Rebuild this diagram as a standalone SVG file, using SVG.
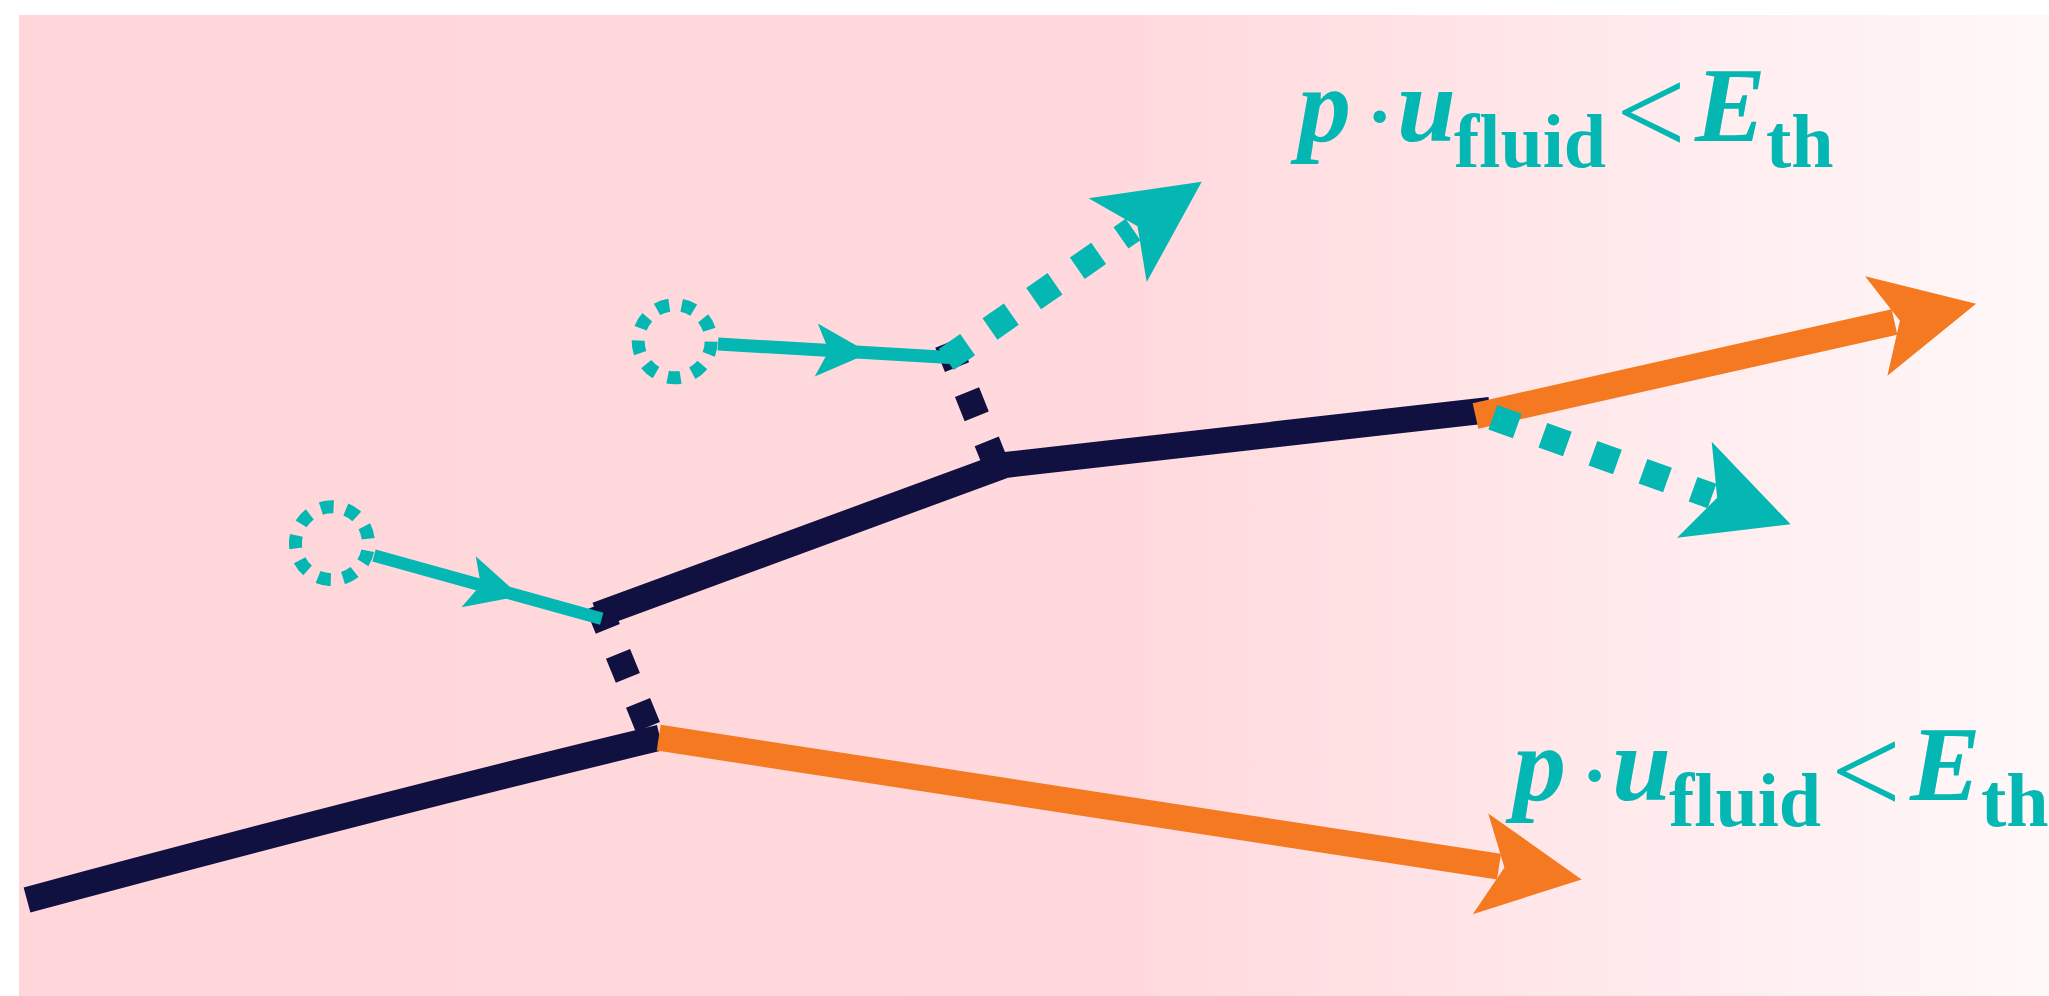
<svg xmlns="http://www.w3.org/2000/svg" width="2049" height="996" viewBox="0 0 2049 996">
  <defs>
    <linearGradient id="bg" x1="0" y1="0" x2="1" y2="0">
      <stop offset="0" stop-color="#FFD7DB"/>
      <stop offset="0.55" stop-color="#FFD9DD"/>
      <stop offset="1" stop-color="#FFF8F9"/>
    </linearGradient>
    <path id="head" d="M83.6,0 L-18.7,-51 L5.5,0 L-18.7,51 Z"/>
    <style>
      .dark { fill: none; stroke: #111141; stroke-width: 26; stroke-linecap: butt; stroke-linejoin: miter; }
      .darkdash { fill: none; stroke: #111141; stroke-width: 26; stroke-dasharray: 26 27; }
      .orange { fill: none; stroke: #F47920; stroke-width: 26; stroke-linecap: butt; }
      .cyanline { fill: none; stroke: #04B7B3; stroke-linecap: butt; }
      .cyandash { fill: none; stroke: #04B7B3; stroke-width: 26; stroke-dasharray: 26 27.2; }
      .ring { fill: none; stroke: #04B7B3; stroke-width: 13; stroke-dasharray: 13 12.48; }
      .headO { fill: #F47920; }
      .headC { fill: #04B7B3; }
      .f { font-family: "Liberation Serif", "Times New Roman", serif; fill: #04B7B3; }
      .bi { font-style: italic; font-weight: bold; font-size: 106px; }
      .sub { font-weight: bold; font-size: 76px; }
      .op { font-size: 106px; }
      .lt { font-size: 124px; }
    </style>
  </defs>

  <rect id="background" x="19" y="15" width="2030" height="981" fill="url(#bg)"/>

  <g id="connectors">
    <!-- dark dashed links -->
    <path class="darkdash" d="M647.9,727 L598,604.8"/>
    <path class="darkdash" d="M996.4,465.5 L947.2,342.6"/>
    <!-- dark main tracks -->
    <path class="dark" d="M27,900 Q380,805 660,737.7"/>
    <polyline class="dark" points="597,615 1005,465 1490,410"/>
    <!-- cyan solid lines with mid arrows -->
    <path class="cyanline" stroke-width="12.5" d="M374,555.5 L601.7,618.7"/>
    <use href="#head" class="headC" transform="translate(478,584.3) rotate(15.6) scale(0.52)"/>
    <path class="cyanline" stroke-width="13" d="M718,344 L950,357.5"/>
    <use href="#head" class="headC" transform="translate(826,350.5) rotate(3.33) scale(0.52)"/>
    <!-- orange arrows -->
    <path class="orange" d="M658.7,737.7 L1499,866.7"/>
    <use href="#head" class="headO" transform="translate(1499,866.7) rotate(8.73)"/>
    <path class="orange" d="M1475.5,416 L1894.5,322"/>
    <use href="#head" class="headO" transform="translate(1894.5,322) rotate(-12.64)"/>
    <!-- cyan dashed arrows -->
    <path class="cyandash" d="M946.3,359.4 L1133,229.5"/>
    <use href="#head" class="headC" transform="translate(1133,229.5) rotate(-34.73)"/>
    <path class="cyandash" d="M1492.8,417.3 L1712,496"/>
    <use href="#head" class="headC" transform="translate(1712,496) rotate(19.83)"/>
  </g>

  <g id="particle-lower">
    <circle class="ring" cx="332" cy="543.3" r="36.5" stroke-dashoffset="17.98"/>
  </g>
  <g id="particle-upper">
    <circle class="ring" cx="674.7" cy="341.3" r="36.5" stroke-dashoffset="25.1"/>
  </g>

  <g id="label-upper" class="f">
    <text class="bi" x="1298" y="141">p</text>
    <text class="op" x="1362" y="152">·</text>
    <text class="bi" x="1397" y="141">u</text>
    <text class="sub" x="1454" y="166.7">fluid</text>
    <text class="lt" x="1616" y="154">&lt;</text>
    <text class="bi" x="1695" y="141">E</text>
    <text class="sub" x="1766" y="166.7">th</text>
  </g>
  <g id="label-lower" class="f" transform="translate(215,659)">
    <text class="bi" x="1298" y="141">p</text>
    <text class="op" x="1362" y="152">·</text>
    <text class="bi" x="1397" y="141">u</text>
    <text class="sub" x="1454" y="166.7">fluid</text>
    <text class="lt" x="1616" y="154">&lt;</text>
    <text class="bi" x="1695" y="141">E</text>
    <text class="sub" x="1766" y="166.7">th</text>
  </g>
</svg>
